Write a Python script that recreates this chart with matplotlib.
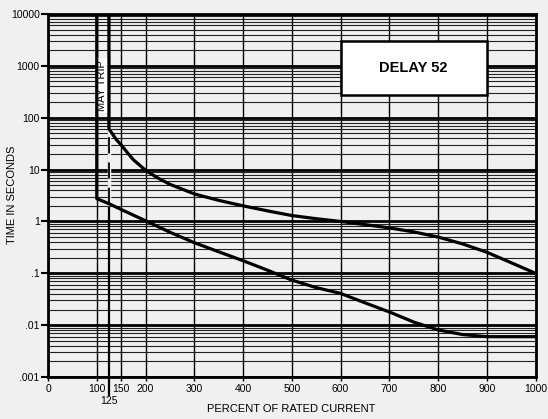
import numpy as np
import matplotlib
matplotlib.use("Agg")
import matplotlib.pyplot as plt
from matplotlib.ticker import LogLocator, NullFormatter
from matplotlib.patches import Rectangle

plt.rcParams['font.family'] = ['Liberation Sans', 'DejaVu Sans']

# upper band (maximum clearing time)
upper_x = [125, 125, 140, 150, 165, 175, 200, 225, 250, 300, 350, 400, 450, 500, 550, 600, 650, 700, 750, 800, 850, 900, 950, 1000]
upper_y = [10000, 61, 38, 30, 20, 15.5, 9.7, 6.9, 5.2, 3.4, 2.55, 2.0, 1.6, 1.3, 1.13, 1.0, 0.87, 0.75, 0.63, 0.5, 0.37, 0.255, 0.16, 0.1]
# lower band (minimum)
lower_x = [100, 100, 125, 150, 200, 250, 300, 350, 400, 450, 500, 550, 600, 650, 700, 750, 800, 850, 900, 950, 1000]
lower_y = [10000, 2.75, 2.2, 1.7, 1.03, 0.62, 0.39, 0.26, 0.175, 0.115, 0.074, 0.053, 0.041, 0.027, 0.018, 0.0115, 0.0081, 0.0066, 0.006, 0.006, 0.006]

x_ticks = [0, 100, 150, 200, 300, 400, 500, 600, 700, 800, 900, 1000]
y_ticks = [0.001, 0.01, 0.1, 1, 10, 100, 1000, 10000]
y_labels = ['.001', '.01', '.1', '1', '10', '100', '1000', '10000']

bg = '#f0f0f0'
fig = plt.figure(figsize=(5.48, 4.19), dpi=100, facecolor=bg)
ax = fig.add_axes([0.0876, 0.1002, 0.8896, 0.8664])
ax.set_facecolor(bg)
ax.set_yscale('log')
ax.set_xlim(0, 1000)
ax.set_ylim(0.001, 10000)

ax.set_xticks(x_ticks)
ax.set_xticklabels([str(v) for v in x_ticks], fontsize=7.5)
ax.set_xticks([125], labels=['125'], minor=True)
ax.set_yticks(y_ticks)
ax.set_yticklabels(y_labels, fontsize=7.5)
ax.yaxis.set_minor_locator(LogLocator(base=10, subs=np.arange(2, 10)))
ax.yaxis.set_minor_formatter(NullFormatter())

ax.tick_params(axis='y', which='major', length=5, width=1.5, pad=1)
ax.tick_params(axis='y', which='minor', length=0)
ax.tick_params(axis='x', which='major', length=3, width=1, pad=2)
ax.tick_params(axis='x', which='minor', length=14, width=1.6, pad=0, labelsize=7.5)

# grid
ax.grid(True, axis='x', which='major', color='black', lw=1.0)
ax.grid(True, axis='y', which='major', color='black', lw=2.0)
ax.grid(True, axis='y', which='minor', color='#222222', lw=0.8)
ax.axvline(125, ymin=0, ymax=1, color='black', lw=1.6, zorder=1)
ax.set_axisbelow(True)

for s in ax.spines.values():
    s.set_linewidth(2)

# white strip behind the MAY TRIP label
ax.add_patch(Rectangle((101, 125), 23, 1295, facecolor='white', edgecolor='none', zorder=2))
ax.text(111, 420, 'MAY TRIP', rotation=90, ha='center', va='center', fontsize=8, zorder=6)

# curves
ax.plot(upper_x, upper_y, color='black', lw=2.3, zorder=3)
ax.plot(lower_x, lower_y, color='black', lw=2.3, zorder=3)
ax.plot([125, 125], [2.2, 61], color=bg, lw=2.5, zorder=2)
ax.plot([125, 125], [2.2, 45], color='black', lw=1.3, zorder=3, linestyle=(0, (9, 5)))

ax.add_patch(Rectangle((600, 270), 300, 2730, facecolor='white', edgecolor='black', lw=1.8, zorder=4))
ax.text(750, 900, 'DELAY 52', ha='center', va='center', fontsize=10.5, fontweight='bold', zorder=5)

fig.text(291 / 548, 1 - 409 / 419, 'PERCENT OF RATED CURRENT', ha='center', va='center', fontsize=8)
fig.text(12 / 548, 1 - 195 / 419, 'TIME IN SECONDS', ha='center', va='center', fontsize=8, rotation=90)

fig.savefig('out.png', dpi=100, facecolor=bg)
